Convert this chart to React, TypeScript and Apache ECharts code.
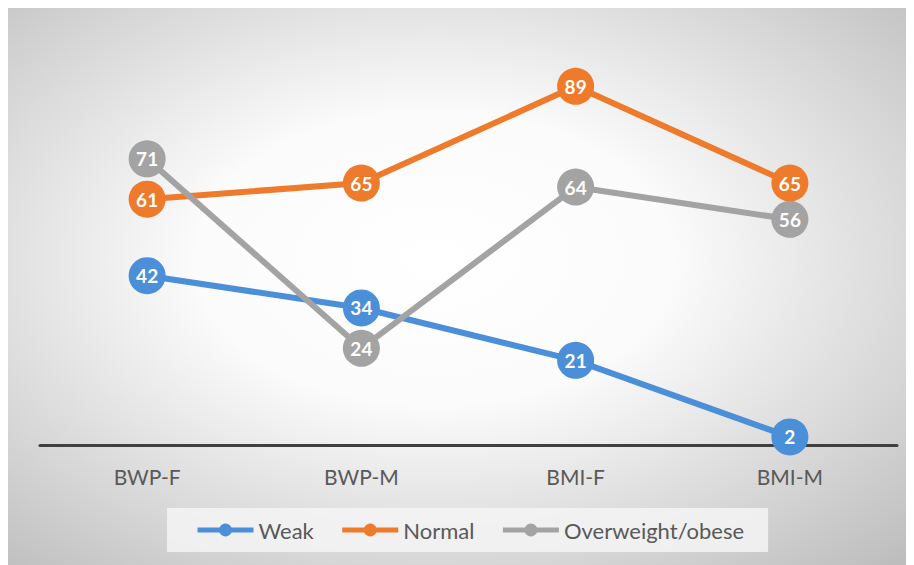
import React, { useEffect, useRef } from "react";
import * as echarts from "echarts";

const categories = ["BWP-F", "BWP-M", "BMI-F", "BMI-M"];
const weak = [42, 34, 21, 2];
const normal = [61, 65, 89, 65];
const overweight = [71, 24, 64, 56];
const seriesNames = ["Weak", "Normal", "Overweight/obese"];
const colors = ["#4A8FD8", "#EE7A2C", "#A3A3A3"];

export default function App() {
  const ref = useRef<HTMLDivElement>(null);
  useEffect(() => {
    const chart = echarts.init(ref.current!, undefined, { renderer: "svg" });
    const mk = (name: string, data: number[], color: string) => ({
      name,
      type: "line",
      data,
      symbol: "circle",
      symbolSize: 37,
      lineStyle: { width: 6, color },
      itemStyle: { color },
      label: {
        show: true,
        position: "inside",
        color: "#ffffff",
        fontWeight: "bold",
        fontSize: 19,
        fontFamily: "Lato",
      },
    });
    chart.setOption({
      animation: false,
      backgroundColor: new echarts.graphic.RadialGradient(0.47, 0.45, 0.75, [
        { offset: 0, color: "#ffffff" },
        { offset: 0.35, color: "#fbfbfb" },
        { offset: 1, color: "#bdbdbd" },
      ]),
      grid: { left: 32, right: 17, top: 34, bottom: 120 },
      legend: {
        data: seriesNames,
        bottom: 13,
        left: 159,
        itemWidth: 56,
        itemHeight: 16,
        itemGap: 26,
        padding: [11, 24, 11, 28],
        backgroundColor: "rgba(245,245,245,0.85)",
        lineStyle: { width: 5 },
        textStyle: { color: "#595959", fontSize: 22, fontFamily: "Lato" },
      },
      xAxis: {
        type: "category",
        data: categories,
        boundaryGap: true,
        axisLine: { lineStyle: { color: "#404040", width: 3 } },
        axisTick: { show: false },
        axisLabel: { color: "#595959", fontSize: 21, fontFamily: "Lato", margin: 21 },
      },
      yAxis: {
        type: "value",
        min: 0,
        max: 100,
        show: false,
        splitLine: { show: false },
      },
      series: [
        mk(seriesNames[0], weak, colors[0]),
        mk(seriesNames[1], normal, colors[1]),
        mk(seriesNames[2], overweight, colors[2]),
      ],
    });
    return () => chart.dispose();
  }, []);
  return (
    <div
      ref={ref}
      style={{ width: 906, height: 557, boxShadow: "0 0 2px #999" }}
    />
  );
}
